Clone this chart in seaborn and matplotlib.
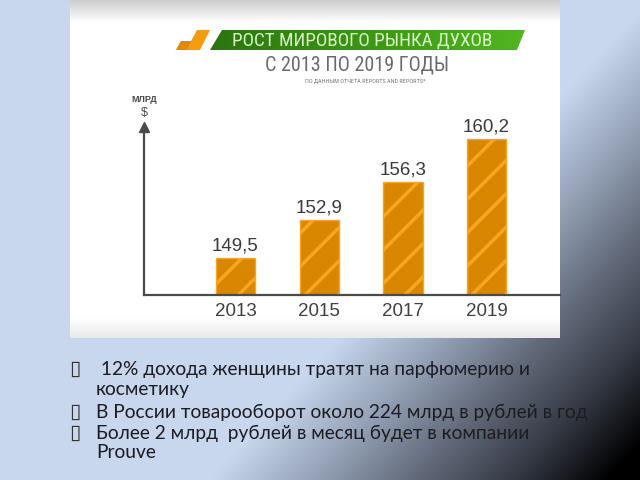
import numpy as np
import pandas as pd
import matplotlib
matplotlib.use("Agg")
import matplotlib.pyplot as plt
import seaborn as sns
from matplotlib import font_manager as fm
from matplotlib.patches import Polygon
from matplotlib.colors import LinearSegmentedColormap

# ---- data ----
years = ["2013", "2015", "2017", "2019"]
values = [149.5, 152.9, 156.3, 160.2]
value_labels = ["149,5", "152,9", "156,3", "160,2"]
title = "РОСТ МИРОВОГО РЫНКА ДУХОВ"
subtitle = "С 2013 ПО 2019 ГОДЫ"
source = "ПО ДАННЫМ ОТЧЕТА REPORTS AND REPORTS*"
unit_top = "МЛРД"
unit_bottom = "$"
bullets = [
    (" 12% дохода женщины тратят на парфюмерию и", "косметику"),
    ("В России товарооборот около 224 млрд в рублей в год", None),
    ("Более 2 млрд  рублей в месяц будет в компании", "Prouve"),
]

sns.set_theme(style="white")
names = {f.name for f in fm.fontManager.ttflist}
def pick(*cands):
    for c in cands:
        if c in names:
            return c
    return "DejaVu Sans"
SANS = pick("Liberation Sans", "DejaVu Sans")
NARROW = pick("Liberation Sans Narrow", "DejaVu Sans Condensed", "Roboto Condensed", "Liberation Sans")
BODY = pick("Lato", "Open Sans", "Liberation Sans")
plt.rcParams["font.family"] = [SANS, "DejaVu Sans"]
plt.rcParams["hatch.linewidth"] = 2.5

W, H = 640, 480
fig = plt.figure(figsize=(6.4, 4.8), dpi=100)

# ---- slide background ----
bg = fig.add_axes([0, 0, 1, 1], zorder=0)
xx, yy = np.meshgrid(np.linspace(0, 1, 320), np.linspace(0, 1, 240))
t = np.clip(1.6 * xx + 1.1 * yy - 1.626, 0, 1)
cmap_bg = LinearSegmentedColormap.from_list(
    "bg", ["#c8d7ee", "#96a3b8", "#646c7c", "#363b46", "#000000"])
bg.imshow(t, extent=[0, W, H, 0], cmap=cmap_bg, vmin=0, vmax=1, aspect="auto",
          interpolation="bilinear")
# chart picture panel
prof = np.ones(338)
for i in range(338):
    if i < 22:
        prof[i] = 0.80 + 0.20 * (i / 22)
    elif i > 318:
        prof[i] = 1.0 - 0.09 * ((i - 318) / 20)
cmap_panel = LinearSegmentedColormap.from_list("p", ["#000000", "#ffffff"])
bg.imshow(prof[:, None], extent=[70, 560, 338, 0], cmap=cmap_panel, vmin=0, vmax=1,
          aspect="auto", interpolation="bilinear")
bg.set_xlim(0, W)
bg.set_ylim(H, 0)
bg.axis("off")

# banner
green = Polygon([(210, 50), (222, 30), (525, 30), (517, 50)], closed=True,
                transform=bg.transData, facecolor="none", edgecolor="none")
bg.add_patch(green)
grad = np.linspace(0, 1, 200)[None, :]
cmap_g = LinearSegmentedColormap.from_list("g", ["#2b7510", "#3d9616", "#52b521"])
im = bg.imshow(grad, extent=[210, 525, 50, 30], cmap=cmap_g, aspect="auto")
im.set_clip_path(green)
bg.add_patch(Polygon([(176, 50), (181, 41), (191, 41), (197, 30), (210, 30), (200, 50)],
                     closed=True, facecolor="#f39c12", edgecolor="none"))
bg.add_patch(Polygon([(176, 50), (181, 41), (191, 41), (187, 50)],
                     closed=True, facecolor="#e38a05", edgecolor="none"))
bg.text(362, 41, title, color="#d8f6c6", fontsize=13.8, family=NARROW,
        ha="center", va="center")
bg.text(357, 65, subtitle, color="#6a6a6a", fontsize=14.5, family=NARROW,
        ha="center", va="center")
bg.text(365, 81, source, color="#7a7a7a", fontsize=4.5, family=NARROW,
        ha="center", va="center")
bg.text(144, 100, unit_top, color="#4a4a4a", fontsize=6.5, fontweight="bold",
        ha="center", va="center")
bg.text(144, 113, unit_bottom, color="#4a4a4a", fontsize=9,
        ha="center", va="center")

# bullets
ys = [369, 412, 433]
for (l1, l2), y in zip(bullets, ys):
    bg.text(75, y, "▯", family="DejaVu Sans", fontsize=15, color="#333333",
            ha="center", va="center")
    bg.text(96, y, l1, family=BODY, fontsize=13.8, color="#1c1c22",
            ha="left", va="center")
    if l2:
        bg.text(96, y + 20, l2, family=BODY, fontsize=13.8, color="#1c1c22",
                ha="left", va="center")

# ---- bar chart ----
x0, x1, yb, yt = 144, 560, 295, 127
ax = fig.add_axes([x0 / W, (H - yb) / H, (x1 - x0) / W, (yb - yt) / H], zorder=2)
ax.set_facecolor("none")
df = pd.DataFrame({"year": years, "value": values})
sns.barplot(data=df, x="year", y="value", ax=ax, color="#d98600", saturation=1,
            width=0.47, hatch="/", edgecolor="#f8a622", linewidth=1.0)
ax.set_xlim(-1.093, 3.877)
ax.set_ylim(146.2, 161.24)
ax.bar_label(ax.containers[0], labels=value_labels, padding=2.5, fontsize=13.5,
             color="#3a3a3a")
for s in ["top", "right"]:
    ax.spines[s].set_visible(False)
for s in ["left", "bottom"]:
    ax.spines[s].set_color("#4a4a4a")
    ax.spines[s].set_linewidth(1.6)
ax.set_yticks([])
ax.set_xlabel("")
ax.set_ylabel("")
ax.tick_params(axis="x", length=0, labelsize=13.5, labelcolor="#404040", pad=6)
ax.plot([0], [1], marker="^", color="#4a4a4a", markersize=7,
        transform=ax.transAxes, clip_on=False)

fig.savefig("out.png", dpi=100)
